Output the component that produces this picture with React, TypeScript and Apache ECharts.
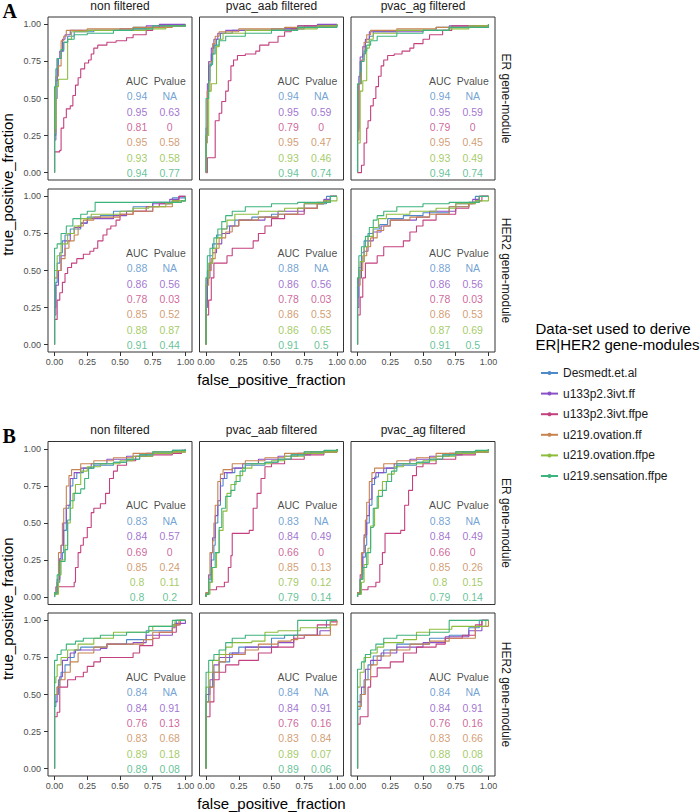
import React, { useEffect, useRef } from "react";
import * as echarts from "echarts";

const SERIES_NAMES = ["Desmedt.et.al", "u133p2.3ivt.ff", "u133p2.3ivt.ffpe", "u219.ovation.ff", "u219.ovation.ffpe", "u219.sensation.ffpe"];
const SERIES_COLORS = ["#4E8AC8", "#8A50C6", "#C4407F", "#C7844F", "#8CBD3D", "#3DB37D"];
const FILTERS = ["non filtered", "pvac_aab filtered", "pvac_ag filtered"];
const MODULES = ["ER gene-module", "HER2 gene-module"];
const TICKS = [0, 0.25, 0.5, 0.75, 1];
const TABLE_HEADER = ["AUC", "Pvalue"];
const TABLE_X = [0.63, 0.88];
const TABLE_Y = [0.62, 0.515, 0.41, 0.307, 0.205, 0.1, 0];

// ---- ROC curves (fpf, tpf), one array of 6 curves per panel ----
const A_ER_NON = [
  [[0,0],[0,0.25],[0.01,0.5],[0.02,0.7],[0.03,0.77],[0.05,0.82],[0.07,0.88],[0.1,0.92],[0.15,0.95],[0.3,0.96],[0.6,0.98],[0.8,0.99],[1,1]],
  [[0,0],[0,0.22],[0.01,0.62],[0.02,0.77],[0.04,0.82],[0.06,0.9],[0.08,0.93],[0.12,0.96],[0.5,0.97],[0.7,0.99],[0.8,1],[1,1]],
  [[0,0],[0,0.14],[0.04,0.15],[0.05,0.3],[0.07,0.37],[0.09,0.43],[0.12,0.45],[0.14,0.52],[0.16,0.59],[0.18,0.64],[0.2,0.7],[0.23,0.74],[0.26,0.76],[0.28,0.8],[0.3,0.84],[0.33,0.86],[0.4,0.88],[0.47,0.89],[0.55,0.91],[0.6,0.93],[0.7,0.96],[0.75,0.98],[0.8,0.99],[1,1]],
  [[0,0],[0,0.27],[0.01,0.65],[0.03,0.72],[0.05,0.89],[0.07,0.92],[0.09,0.96],[0.25,0.97],[0.6,0.98],[0.9,0.99],[1,1]],
  [[0,0],[0,0.3],[0.01,0.58],[0.03,0.63],[0.1,0.9],[0.13,0.95],[0.25,0.96],[0.7,0.97],[0.85,0.99],[1,1]],
  [[0,0],[0,0.58],[0.01,0.7],[0.02,0.77],[0.05,0.83],[0.07,0.88],[0.1,0.9],[0.15,0.93],[0.25,0.94],[0.45,0.96],[0.6,0.97],[0.75,0.99],[1,1]],
];
const A_ER_AAB = [
  [[0,0],[0,0.3],[0.01,0.55],[0.02,0.72],[0.04,0.8],[0.06,0.86],[0.08,0.9],[0.11,0.94],[0.2,0.96],[0.5,0.97],[0.7,0.99],[1,1]],
  [[0,0],[0,0.25],[0.01,0.6],[0.02,0.75],[0.04,0.84],[0.06,0.9],[0.09,0.94],[0.15,0.96],[0.6,0.97],[0.75,0.99],[0.85,1],[1,1]],
  [[0,0],[0.01,0.1],[0.06,0.1],[0.07,0.35],[0.1,0.4],[0.12,0.48],[0.15,0.55],[0.17,0.62],[0.19,0.72],[0.21,0.76],[0.24,0.79],[0.3,0.8],[0.38,0.82],[0.41,0.86],[0.48,0.88],[0.55,0.92],[0.6,0.95],[0.65,0.97],[0.7,0.99],[1,1]],
  [[0,0],[0,0.2],[0.01,0.55],[0.03,0.75],[0.05,0.87],[0.07,0.92],[0.1,0.95],[0.25,0.97],[0.6,0.98],[0.9,0.99],[1,1]],
  [[0,0],[0,0.25],[0.02,0.55],[0.04,0.6],[0.08,0.85],[0.1,0.9],[0.13,0.94],[0.3,0.96],[0.7,0.97],[0.85,0.99],[1,1]],
  [[0,0],[0,0.5],[0.02,0.62],[0.03,0.73],[0.05,0.8],[0.07,0.86],[0.1,0.89],[0.15,0.92],[0.3,0.94],[0.5,0.96],[0.7,0.98],[1,1]],
];
const A_ER_AG = [
  [[0,0],[0,0.3],[0.01,0.6],[0.02,0.75],[0.04,0.8],[0.06,0.88],[0.09,0.92],[0.12,0.95],[0.3,0.96],[0.6,0.98],[1,1]],
  [[0,0],[0,0.28],[0.01,0.65],[0.02,0.78],[0.04,0.85],[0.06,0.9],[0.09,0.95],[0.5,0.96],[0.7,0.99],[1,1]],
  [[0,0],[0.03,0.05],[0.05,0.2],[0.07,0.3],[0.08,0.35],[0.1,0.45],[0.12,0.5],[0.14,0.58],[0.16,0.65],[0.18,0.72],[0.2,0.76],[0.23,0.79],[0.28,0.8],[0.34,0.82],[0.4,0.84],[0.43,0.87],[0.5,0.9],[0.55,0.93],[0.65,0.96],[0.72,0.99],[1,1]],
  [[0,0],[0,0.22],[0.01,0.6],[0.03,0.76],[0.05,0.88],[0.07,0.93],[0.1,0.96],[0.3,0.97],[0.6,0.98],[0.9,0.99],[1,1]],
  [[0,0],[0,0.2],[0.02,0.55],[0.04,0.62],[0.07,0.84],[0.09,0.9],[0.12,0.94],[0.3,0.96],[0.7,0.97],[0.85,0.99],[1,1]],
  [[0,0],[0,0.6],[0.02,0.68],[0.03,0.75],[0.05,0.82],[0.07,0.86],[0.1,0.89],[0.15,0.92],[0.3,0.94],[0.5,0.96],[0.7,0.98],[1,1]],
];
const A_HER2_NON = [
  [[0,0],[0,0.25],[0.01,0.42],[0.02,0.55],[0.04,0.62],[0.06,0.7],[0.08,0.74],[0.12,0.78],[0.2,0.82],[0.25,0.86],[0.35,0.87],[0.45,0.9],[0.6,0.93],[0.75,0.96],[0.9,0.99],[1,1]],
  [[0,0],[0,0.2],[0.01,0.4],[0.03,0.5],[0.05,0.6],[0.08,0.7],[0.12,0.75],[0.15,0.79],[0.2,0.82],[0.25,0.85],[0.45,0.87],[0.55,0.9],[0.75,0.95],[0.88,0.98],[0.95,1],[1,1]],
  [[0,0],[0,0.17],[0.02,0.3],[0.04,0.35],[0.06,0.42],[0.08,0.48],[0.1,0.52],[0.13,0.55],[0.17,0.58],[0.22,0.61],[0.27,0.63],[0.3,0.65],[0.33,0.7],[0.37,0.74],[0.4,0.78],[0.43,0.8],[0.47,0.84],[0.5,0.88],[0.6,0.9],[0.7,0.93],[0.8,0.95],[0.9,0.97],[0.95,1],[1,1]],
  [[0,0],[0,0.45],[0.02,0.5],[0.05,0.58],[0.08,0.65],[0.11,0.7],[0.15,0.74],[0.18,0.8],[0.22,0.84],[0.3,0.86],[0.5,0.88],[0.6,0.9],[0.75,0.93],[0.9,0.97],[1,1]],
  [[0,0],[0,0.5],[0.02,0.6],[0.05,0.68],[0.1,0.75],[0.15,0.8],[0.2,0.85],[0.28,0.88],[0.5,0.9],[0.6,0.92],[0.72,0.93],[0.85,0.95],[0.9,0.97],[1,1]],
  [[0,0],[0,0.65],[0.02,0.68],[0.05,0.75],[0.09,0.8],[0.14,0.85],[0.2,0.88],[0.25,0.9],[0.31,0.96],[0.97,0.97],[1,1]],
];
const A_HER2_AAB = [
  [[0,0],[0,0.3],[0.01,0.5],[0.03,0.6],[0.05,0.68],[0.08,0.74],[0.12,0.78],[0.16,0.8],[0.22,0.84],[0.35,0.86],[0.5,0.88],[0.7,0.92],[0.85,0.95],[0.92,1],[1,1]],
  [[0,0],[0,0.25],[0.01,0.45],[0.03,0.55],[0.05,0.62],[0.08,0.68],[0.12,0.75],[0.18,0.8],[0.25,0.84],[0.45,0.86],[0.55,0.9],[0.75,0.95],[0.9,0.98],[0.95,1],[1,1]],
  [[0,0],[0,0.2],[0.02,0.3],[0.04,0.45],[0.06,0.55],[0.16,0.6],[0.2,0.65],[0.36,0.7],[0.4,0.75],[0.45,0.8],[0.5,0.85],[0.6,0.88],[0.75,0.92],[0.85,0.95],[0.9,0.97],[0.95,1],[1,1]],
  [[0,0],[0,0.4],[0.02,0.5],[0.04,0.58],[0.07,0.65],[0.1,0.72],[0.15,0.76],[0.2,0.8],[0.25,0.84],[0.4,0.86],[0.55,0.88],[0.7,0.92],[0.85,0.96],[0.95,1],[1,1]],
  [[0,0],[0,0.45],[0.02,0.55],[0.05,0.65],[0.08,0.72],[0.12,0.78],[0.16,0.84],[0.22,0.88],[0.4,0.9],[0.6,0.92],[0.75,0.95],[0.9,0.97],[1,1]],
  [[0,0],[0,0.45],[0.01,0.6],[0.03,0.65],[0.06,0.72],[0.09,0.78],[0.12,0.83],[0.15,0.87],[0.2,0.9],[0.3,0.93],[0.5,0.95],[0.7,0.96],[0.95,1],[1,1]],
];
const A_HER2_AG = [
  [[0,0],[0,0.32],[0.01,0.52],[0.03,0.62],[0.05,0.7],[0.08,0.75],[0.12,0.78],[0.17,0.81],[0.23,0.85],[0.35,0.87],[0.5,0.89],[0.7,0.93],[0.85,0.96],[0.9,1],[1,1]],
  [[0,0],[0,0.25],[0.01,0.45],[0.03,0.56],[0.05,0.63],[0.08,0.7],[0.12,0.76],[0.18,0.8],[0.25,0.84],[0.45,0.86],[0.55,0.9],[0.75,0.95],[0.88,0.98],[0.93,1],[1,1]],
  [[0,0],[0,0.2],[0.02,0.32],[0.04,0.45],[0.06,0.55],[0.15,0.6],[0.2,0.66],[0.35,0.7],[0.4,0.76],[0.45,0.8],[0.5,0.84],[0.6,0.88],[0.75,0.92],[0.85,0.95],[0.9,0.97],[0.95,1],[1,1]],
  [[0,0],[0,0.4],[0.02,0.5],[0.04,0.6],[0.07,0.66],[0.1,0.72],[0.15,0.77],[0.2,0.8],[0.25,0.84],[0.4,0.86],[0.55,0.88],[0.7,0.93],[0.85,0.96],[0.93,1],[1,1]],
  [[0,0],[0,0.45],[0.02,0.56],[0.05,0.66],[0.08,0.73],[0.12,0.79],[0.16,0.85],[0.22,0.88],[0.4,0.9],[0.6,0.92],[0.75,0.95],[0.9,0.97],[1,1]],
  [[0,0],[0,0.45],[0.01,0.6],[0.03,0.66],[0.06,0.73],[0.09,0.79],[0.12,0.84],[0.15,0.87],[0.2,0.9],[0.3,0.93],[0.5,0.95],[0.7,0.96],[0.93,1],[1,1]],
];
const B_ER_NON = [
  [[0,0],[0,0.02],[0.02,0.1],[0.04,0.25],[0.06,0.3],[0.07,0.45],[0.09,0.6],[0.11,0.62],[0.12,0.75],[0.14,0.8],[0.17,0.84],[0.22,0.87],[0.3,0.89],[0.45,0.91],[0.55,0.93],[0.65,0.96],[0.75,0.97],[0.9,0.99],[1,1]],
  [[0,0],[0,0.03],[0.02,0.12],[0.04,0.26],[0.05,0.35],[0.07,0.5],[0.09,0.62],[0.12,0.8],[0.15,0.84],[0.2,0.87],[0.28,0.9],[0.4,0.93],[0.55,0.95],[0.7,0.97],[0.9,0.98],[1,1]],
  [[0,0],[0,0.02],[0.01,0.07],[0.15,0.1],[0.16,0.2],[0.18,0.3],[0.2,0.35],[0.22,0.4],[0.25,0.47],[0.28,0.57],[0.3,0.6],[0.35,0.63],[0.39,0.7],[0.42,0.8],[0.45,0.85],[0.48,0.89],[0.55,0.92],[0.62,0.95],[0.75,0.96],[0.9,0.97],[0.97,0.99],[1,1]],
  [[0,0],[0,0.03],[0.02,0.1],[0.03,0.3],[0.05,0.35],[0.06,0.5],[0.07,0.6],[0.09,0.75],[0.11,0.82],[0.13,0.86],[0.2,0.9],[0.3,0.92],[0.45,0.94],[0.6,0.97],[0.75,0.98],[1,1]],
  [[0,0],[0,0.02],[0.03,0.15],[0.05,0.25],[0.08,0.35],[0.1,0.5],[0.12,0.6],[0.14,0.7],[0.16,0.76],[0.2,0.85],[0.25,0.88],[0.35,0.9],[0.5,0.92],[0.6,0.95],[0.75,0.97],[0.9,0.98],[1,1]],
  [[0,0],[0,0.03],[0.02,0.15],[0.04,0.24],[0.08,0.32],[0.1,0.52],[0.12,0.65],[0.15,0.7],[0.2,0.73],[0.23,0.8],[0.26,0.87],[0.3,0.9],[0.45,0.91],[0.55,0.93],[0.65,0.96],[0.75,0.98],[0.9,0.99],[1,1]],
];
const B_ER_AAB = [
  [[0,0],[0,0.03],[0.02,0.1],[0.04,0.25],[0.06,0.35],[0.07,0.5],[0.09,0.62],[0.11,0.75],[0.13,0.8],[0.16,0.84],[0.22,0.87],[0.3,0.89],[0.45,0.91],[0.55,0.93],[0.65,0.96],[0.8,0.98],[1,1]],
  [[0,0],[0,0.03],[0.02,0.15],[0.04,0.3],[0.05,0.4],[0.07,0.55],[0.09,0.65],[0.11,0.8],[0.14,0.84],[0.2,0.87],[0.28,0.9],[0.4,0.93],[0.55,0.95],[0.7,0.97],[0.9,0.98],[1,1]],
  [[0,0],[0,0.02],[0.02,0.05],[0.08,0.07],[0.14,0.1],[0.17,0.2],[0.19,0.28],[0.2,0.43],[0.33,0.45],[0.36,0.6],[0.39,0.7],[0.42,0.8],[0.45,0.88],[0.5,0.9],[0.6,0.93],[0.75,0.96],[0.9,0.98],[1,1]],
  [[0,0],[0,0.03],[0.02,0.12],[0.03,0.3],[0.05,0.38],[0.06,0.5],[0.07,0.62],[0.09,0.78],[0.11,0.83],[0.13,0.86],[0.2,0.9],[0.3,0.92],[0.45,0.94],[0.6,0.97],[0.75,0.98],[1,1]],
  [[0,0],[0,0.02],[0.03,0.1],[0.05,0.2],[0.08,0.3],[0.1,0.45],[0.13,0.58],[0.16,0.7],[0.19,0.76],[0.23,0.82],[0.28,0.87],[0.35,0.9],[0.5,0.92],[0.6,0.95],[0.75,0.97],[0.9,0.98],[1,1]],
  [[0,0],[0,0.02],[0.02,0.12],[0.04,0.2],[0.07,0.3],[0.1,0.47],[0.12,0.6],[0.15,0.68],[0.19,0.72],[0.22,0.78],[0.26,0.85],[0.3,0.9],[0.45,0.91],[0.55,0.93],[0.65,0.96],[0.75,0.98],[0.9,0.99],[1,1]],
];
const B_ER_AG = [
  [[0,0],[0,0.03],[0.02,0.12],[0.04,0.27],[0.06,0.35],[0.07,0.5],[0.09,0.62],[0.11,0.76],[0.13,0.81],[0.16,0.84],[0.22,0.87],[0.3,0.89],[0.45,0.91],[0.55,0.93],[0.65,0.96],[0.8,0.98],[1,1]],
  [[0,0],[0,0.03],[0.02,0.15],[0.04,0.3],[0.05,0.42],[0.07,0.55],[0.09,0.66],[0.11,0.8],[0.14,0.84],[0.2,0.87],[0.28,0.9],[0.4,0.93],[0.55,0.95],[0.7,0.97],[0.9,0.98],[1,1]],
  [[0,0],[0,0.02],[0.02,0.05],[0.08,0.07],[0.14,0.1],[0.17,0.22],[0.19,0.3],[0.21,0.43],[0.33,0.45],[0.36,0.62],[0.39,0.72],[0.42,0.82],[0.45,0.88],[0.5,0.9],[0.6,0.93],[0.75,0.96],[0.9,0.98],[1,1]],
  [[0,0],[0,0.03],[0.02,0.12],[0.03,0.3],[0.05,0.4],[0.06,0.52],[0.07,0.64],[0.09,0.78],[0.11,0.84],[0.13,0.87],[0.2,0.9],[0.3,0.92],[0.45,0.94],[0.6,0.97],[0.75,0.98],[1,1]],
  [[0,0],[0,0.02],[0.03,0.1],[0.05,0.22],[0.08,0.33],[0.1,0.48],[0.13,0.6],[0.16,0.72],[0.19,0.78],[0.23,0.83],[0.28,0.88],[0.35,0.9],[0.5,0.92],[0.6,0.95],[0.75,0.97],[0.9,0.98],[1,1]],
  [[0,0],[0,0.02],[0.02,0.12],[0.04,0.2],[0.07,0.3],[0.1,0.47],[0.12,0.6],[0.15,0.68],[0.19,0.72],[0.22,0.78],[0.26,0.85],[0.3,0.9],[0.45,0.91],[0.55,0.93],[0.65,0.96],[0.75,0.98],[0.9,0.99],[1,1]],
];
const B_HER2_NON = [
  [[0,0],[0,0.42],[0.01,0.5],[0.03,0.6],[0.05,0.65],[0.08,0.7],[0.12,0.75],[0.15,0.8],[0.2,0.82],[0.4,0.84],[0.55,0.87],[0.7,0.93],[0.9,0.97],[0.93,1],[1,1]],
  [[0,0],[0,0.45],[0.02,0.55],[0.04,0.62],[0.06,0.73],[0.1,0.75],[0.12,0.78],[0.16,0.8],[0.35,0.81],[0.4,0.84],[0.6,0.85],[0.7,0.9],[0.9,0.95],[0.92,0.98],[1,1]],
  [[0,0],[0,0.35],[0.02,0.38],[0.04,0.55],[0.1,0.6],[0.16,0.62],[0.22,0.65],[0.25,0.69],[0.3,0.72],[0.35,0.75],[0.6,0.78],[0.65,0.83],[0.75,0.88],[0.8,0.92],[0.93,0.97],[0.96,1],[1,1]],
  [[0,0],[0,0.5],[0.02,0.55],[0.04,0.6],[0.08,0.65],[0.12,0.72],[0.18,0.78],[0.3,0.82],[0.4,0.84],[0.68,0.87],[0.75,0.92],[0.9,0.97],[0.95,1],[1,1]],
  [[0,0],[0,0.58],[0.01,0.62],[0.02,0.7],[0.05,0.75],[0.1,0.8],[0.18,0.84],[0.3,0.88],[0.45,0.92],[0.72,0.93],[0.75,0.96],[0.92,1],[1,1]],
  [[0,0],[0,0.73],[0.02,0.77],[0.05,0.8],[0.09,0.84],[0.16,0.86],[0.22,0.88],[0.35,0.9],[0.55,0.92],[0.72,0.96],[0.9,1],[1,1]],
];
const B_HER2_AAB = [
  [[0,0],[0,0.45],[0.02,0.55],[0.05,0.65],[0.1,0.72],[0.18,0.78],[0.25,0.82],[0.5,0.88],[0.6,0.9],[0.85,0.95],[0.92,1],[1,1]],
  [[0,0],[0,0.5],[0.03,0.6],[0.06,0.7],[0.1,0.75],[0.2,0.78],[0.3,0.82],[0.55,0.85],[0.67,0.9],[0.87,0.93],[0.95,1],[1,1]],
  [[0,0],[0,0.35],[0.03,0.45],[0.06,0.6],[0.1,0.65],[0.15,0.7],[0.25,0.73],[0.4,0.78],[0.5,0.82],[0.6,0.82],[0.67,0.88],[0.75,0.9],[0.85,0.97],[0.95,0.99],[1,1]],
  [[0,0],[0,0.45],[0.03,0.55],[0.06,0.65],[0.1,0.72],[0.15,0.77],[0.3,0.8],[0.4,0.84],[0.55,0.86],[0.65,0.87],[0.7,0.9],[0.95,0.97],[1,1]],
  [[0,0],[0,0.55],[0.02,0.65],[0.05,0.73],[0.1,0.77],[0.15,0.82],[0.2,0.85],[0.35,0.86],[0.45,0.92],[0.55,0.93],[0.72,0.95],[0.95,1],[1,1]],
  [[0,0],[0,0.65],[0.02,0.73],[0.06,0.77],[0.1,0.8],[0.15,0.85],[0.2,0.88],[0.3,0.9],[0.5,0.9],[0.7,1],[1,1]],
];
const B_HER2_AG = [
  [[0,0],[0,0.4],[0.02,0.5],[0.05,0.6],[0.08,0.7],[0.12,0.76],[0.2,0.8],[0.3,0.84],[0.55,0.88],[0.7,0.9],[0.85,0.95],[0.93,1],[1,1]],
  [[0,0],[0,0.45],[0.03,0.55],[0.06,0.67],[0.1,0.73],[0.18,0.78],[0.3,0.82],[0.5,0.85],[0.67,0.89],[0.85,0.93],[0.95,1],[1,1]],
  [[0,0],[0,0.3],[0.02,0.35],[0.08,0.55],[0.1,0.62],[0.15,0.68],[0.25,0.72],[0.35,0.78],[0.45,0.82],[0.6,0.84],[0.67,0.88],[0.8,0.9],[0.9,0.97],[0.95,1],[1,1]],
  [[0,0],[0,0.42],[0.03,0.5],[0.06,0.6],[0.1,0.7],[0.15,0.76],[0.25,0.8],[0.4,0.84],[0.55,0.86],[0.7,0.88],[0.9,0.96],[1,1]],
  [[0,0],[0,0.55],[0.02,0.65],[0.05,0.75],[0.1,0.78],[0.15,0.82],[0.2,0.85],[0.35,0.87],[0.45,0.92],[0.55,0.94],[0.72,0.96],[0.98,1],[1,1]],
  [[0,0],[0,0.67],[0.03,0.72],[0.06,0.77],[0.1,0.8],[0.14,0.84],[0.2,0.88],[0.3,0.9],[0.55,0.92],[0.7,1],[1,1]],
];

// ---- AUC / Pvalue tables ----
const A_ER_NON_AUC = ["0.94", "0.95", "0.81", "0.95", "0.93", "0.94"];
const A_ER_NON_P = ["NA", "0.63", "0", "0.58", "0.58", "0.77"];
const A_ER_AAB_AUC = ["0.94", "0.95", "0.79", "0.95", "0.93", "0.94"];
const A_ER_AAB_P = ["NA", "0.59", "0", "0.47", "0.46", "0.74"];
const A_ER_AG_AUC = ["0.94", "0.95", "0.79", "0.95", "0.93", "0.94"];
const A_ER_AG_P = ["NA", "0.59", "0", "0.45", "0.49", "0.74"];
const A_HER2_NON_AUC = ["0.88", "0.86", "0.78", "0.85", "0.88", "0.91"];
const A_HER2_NON_P = ["NA", "0.56", "0.03", "0.52", "0.87", "0.44"];
const A_HER2_AAB_AUC = ["0.88", "0.86", "0.78", "0.86", "0.86", "0.91"];
const A_HER2_AAB_P = ["NA", "0.56", "0.03", "0.53", "0.65", "0.5"];
const A_HER2_AG_AUC = ["0.88", "0.86", "0.78", "0.86", "0.87", "0.91"];
const A_HER2_AG_P = ["NA", "0.56", "0.03", "0.53", "0.69", "0.5"];
const B_ER_NON_AUC = ["0.83", "0.84", "0.69", "0.85", "0.8", "0.8"];
const B_ER_NON_P = ["NA", "0.57", "0", "0.24", "0.11", "0.2"];
const B_ER_AAB_AUC = ["0.83", "0.84", "0.66", "0.85", "0.79", "0.79"];
const B_ER_AAB_P = ["NA", "0.49", "0", "0.13", "0.12", "0.14"];
const B_ER_AG_AUC = ["0.83", "0.84", "0.66", "0.85", "0.8", "0.79"];
const B_ER_AG_P = ["NA", "0.49", "0", "0.26", "0.15", "0.14"];
const B_HER2_NON_AUC = ["0.84", "0.84", "0.76", "0.83", "0.89", "0.89"];
const B_HER2_NON_P = ["NA", "0.91", "0.13", "0.68", "0.18", "0.08"];
const B_HER2_AAB_AUC = ["0.84", "0.84", "0.76", "0.83", "0.89", "0.89"];
const B_HER2_AAB_P = ["NA", "0.91", "0.16", "0.84", "0.07", "0.06"];
const B_HER2_AG_AUC = ["0.84", "0.84", "0.76", "0.83", "0.88", "0.89"];
const B_HER2_AG_P = ["NA", "0.91", "0.16", "0.66", "0.08", "0.06"];

const PANELS = [
  { fig: 0, row: 0, col: 0, curves: A_ER_NON, auc: A_ER_NON_AUC, p: A_ER_NON_P },
  { fig: 0, row: 0, col: 1, curves: A_ER_AAB, auc: A_ER_AAB_AUC, p: A_ER_AAB_P },
  { fig: 0, row: 0, col: 2, curves: A_ER_AG, auc: A_ER_AG_AUC, p: A_ER_AG_P },
  { fig: 0, row: 1, col: 0, curves: A_HER2_NON, auc: A_HER2_NON_AUC, p: A_HER2_NON_P },
  { fig: 0, row: 1, col: 1, curves: A_HER2_AAB, auc: A_HER2_AAB_AUC, p: A_HER2_AAB_P },
  { fig: 0, row: 1, col: 2, curves: A_HER2_AG, auc: A_HER2_AG_AUC, p: A_HER2_AG_P },
  { fig: 1, row: 0, col: 0, curves: B_ER_NON, auc: B_ER_NON_AUC, p: B_ER_NON_P },
  { fig: 1, row: 0, col: 1, curves: B_ER_AAB, auc: B_ER_AAB_AUC, p: B_ER_AAB_P },
  { fig: 1, row: 0, col: 2, curves: B_ER_AG, auc: B_ER_AG_AUC, p: B_ER_AG_P },
  { fig: 1, row: 1, col: 0, curves: B_HER2_NON, auc: B_HER2_NON_AUC, p: B_HER2_NON_P },
  { fig: 1, row: 1, col: 1, curves: B_HER2_AAB, auc: B_HER2_AAB_AUC, p: B_HER2_AAB_P },
  { fig: 1, row: 1, col: 2, curves: B_HER2_AG, auc: B_HER2_AG_AUC, p: B_HER2_AG_P },
];

// ---- layout ----
const FONT = "'Liberation Sans', Arial, Helvetica, sans-serif";
const COL_LEFT = [48, 199.5, 351];
const PANEL_W = 144;
const PANEL_H = 163;
const ROW_TOP = [[17, 189], [441.5, 613]];
const FIG_LABELS = ["A", "B"];

function buildOption() {
  const grid: any[] = [];
  const xAxis: any[] = [];
  const yAxis: any[] = [];
  const series: any[] = [];
  const graphic: any[] = [];

  PANELS.forEach((pn, i) => {
    grid.push({
      left: COL_LEFT[pn.col], top: ROW_TOP[pn.fig][pn.row], width: PANEL_W, height: PANEL_H,
      show: true, borderColor: "#333333", borderWidth: 1, backgroundColor: "transparent",
      containLabel: false, outerBoundsMode: "none",
    });
    const showX = pn.row === 1;
    const showY = pn.col === 0;
    xAxis.push({
      gridIndex: i, type: "value", min: -0.05, max: 1.05,
      axisLine: { show: false, onZero: false },
      splitLine: { show: false },
      axisTick: { show: showX, length: 4, lineStyle: { color: "#333333", width: 1 }, customValues: TICKS },
      axisLabel: { show: showX, customValues: TICKS, formatter: (v: number) => v.toFixed(2), fontSize: 9, color: "#4D4D4D", margin: 5, fontFamily: FONT },
    });
    yAxis.push({
      gridIndex: i, type: "value", min: -0.05, max: 1.05,
      axisLine: { show: false, onZero: false },
      splitLine: { show: false },
      axisTick: { show: showY, length: 4, lineStyle: { color: "#333333", width: 1 }, customValues: TICKS },
      axisLabel: { show: showY, customValues: TICKS, formatter: (v: number) => v.toFixed(2), fontSize: 9, color: "#4D4D4D", margin: 7, fontFamily: FONT },
    });
    pn.curves.forEach((curve, s) => {
      series.push({
        type: "line", name: SERIES_NAMES[s], xAxisIndex: i, yAxisIndex: i,
        data: curve, step: "end", symbol: "circle", symbolSize: 4, showSymbol: false,
        color: SERIES_COLORS[s], itemStyle: { color: SERIES_COLORS[s] },
        lineStyle: { width: 1.1, color: SERIES_COLORS[s] },
        silent: true, clip: false, z: 2,
      });
    });
    const tableData: any[] = [];
    TABLE_HEADER.forEach((h, c) => {
      tableData.push({ name: h, value: [TABLE_X[c], TABLE_Y[0]], label: { color: "#1A1A1A" } });
    });
    SERIES_NAMES.forEach((_, s) => {
      tableData.push({ name: pn.auc[s], value: [TABLE_X[0], TABLE_Y[s + 1]], label: { color: SERIES_COLORS[s] } });
      tableData.push({ name: pn.p[s], value: [TABLE_X[1], TABLE_Y[s + 1]], label: { color: SERIES_COLORS[s] } });
    });
    series.push({
      type: "scatter", xAxisIndex: i, yAxisIndex: i, data: tableData,
      symbolSize: 1, itemStyle: { color: "rgba(0,0,0,0)" }, silent: true, z: 3,
      label: { show: true, position: "inside", formatter: "{b}", fontSize: 10.5, fontFamily: FONT },
    });
  });

  // strips, titles, figure letters
  [0, 1].forEach((f) => {
    const top = ROW_TOP[f][0];
    FILTERS.forEach((t, c) => {
      graphic.push({ type: "text", x: COL_LEFT[c] + PANEL_W / 2, y: top - 11.5,
        style: { text: t, fontSize: 12, fill: "#1A1A1A", align: "center", verticalAlign: "middle", fontFamily: FONT } });
    });
    MODULES.forEach((t, r) => {
      graphic.push({ type: "text", x: COL_LEFT[2] + PANEL_W + 11, y: ROW_TOP[f][r] + PANEL_H / 2, rotation: -Math.PI / 2,
        style: { text: t, fontSize: 12, fill: "#1A1A1A", align: "center", verticalAlign: "middle", fontFamily: FONT } });
    });
    const bottom = ROW_TOP[f][1] + PANEL_H;
    graphic.push({ type: "text", x: 7.5, y: (top + bottom) / 2, rotation: Math.PI / 2,
      style: { text: "true_positive_fraction", fontSize: 15, fill: "#000000", align: "center", verticalAlign: "middle", fontFamily: FONT } });
    graphic.push({ type: "text", x: (COL_LEFT[0] + COL_LEFT[2] + PANEL_W) / 2, y: bottom + 27.5,
      style: { text: "false_positive_fraction", fontSize: 15, fill: "#000000", align: "center", verticalAlign: "middle", fontFamily: FONT } });
    graphic.push({ type: "text", x: 2.5, y: top - 6,
      style: { text: FIG_LABELS[f], fontSize: 20, fontWeight: "bold", fill: "#000000", align: "left", verticalAlign: "middle", fontFamily: "'Liberation Serif', 'Times New Roman', serif" } });
  });
  graphic.push({ type: "text", x: 535.5, y: 328,
    style: { text: "Data-set used to derive", fontSize: 15, fill: "#000000", align: "left", verticalAlign: "middle", fontFamily: FONT } });
  graphic.push({ type: "text", x: 535.5, y: 344,
    style: { text: "ER|HER2 gene-modules", fontSize: 15, fill: "#000000", align: "left", verticalAlign: "middle", fontFamily: FONT } });

  return {
    animation: false,
    backgroundColor: "#ffffff",
    grid, xAxis, yAxis, series, graphic,
    legend: {
      data: SERIES_NAMES, orient: "vertical", left: 535, top: 362,
      itemWidth: 17, itemHeight: 5, itemGap: 8.6, selectedMode: false,
      textStyle: { fontSize: 12, color: "#1A1A1A", fontFamily: FONT },
    },
  };
}

export default function App() {
  const ref = useRef<HTMLDivElement>(null);
  useEffect(() => {
    if (!ref.current) return;
    const chart = echarts.init(ref.current, undefined, { renderer: "svg" });
    chart.setOption(buildOption() as any);
    return () => chart.dispose();
  }, []);
  return <div ref={ref} style={{ position: "fixed", left: 0, top: 0, width: 700, height: 812, background: "#fff" }} />;
}
